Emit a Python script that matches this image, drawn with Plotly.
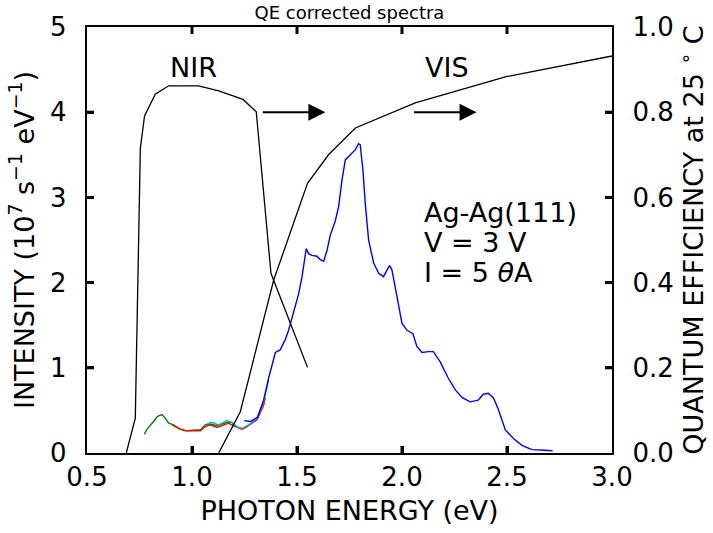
import plotly.graph_objects as go

FONT = "DejaVu Sans"

# ---- Quantum efficiency curves (right axis) ----
nir_qe_x = [0.687, 0.730, 0.754, 0.774, 0.825, 0.889, 1.031, 1.127, 1.243, 1.306, 1.376, 1.550]
nir_qe_y = [0.0, 0.082, 0.715, 0.791, 0.842, 0.862, 0.862, 0.850, 0.830, 0.801, 0.422, 0.201]
vis_qe_x = [1.127, 1.230, 1.389, 1.550, 1.650, 1.778, 2.063, 2.492, 3.0]
vis_qe_y = [0.0, 0.097, 0.406, 0.633, 0.700, 0.763, 0.822, 0.883, 0.932]

# ---- Spectra (left axis, 10^7 s^-1 eV^-1) ----
green_x = [0.773, 0.786, 0.817, 0.836, 0.857, 0.873, 0.889, 0.912, 0.936, 0.968, 1.016, 1.040,
           1.063, 1.087, 1.119, 1.143, 1.167, 1.190, 1.201]
green_y = [0.22, 0.28, 0.37, 0.43, 0.45, 0.41, 0.35, 0.33, 0.29, 0.26, 0.27, 0.27,
           0.33, 0.34, 0.32, 0.34, 0.36, 0.36, 0.32]
red_x = [0.905, 0.944, 0.976, 1.040, 1.063, 1.087, 1.119, 1.150, 1.174, 1.198, 1.238, 1.262,
         1.310, 1.341, 1.349]
red_y = [0.33, 0.28, 0.26, 0.26, 0.31, 0.33, 0.30, 0.33, 0.35, 0.32, 0.28, 0.31,
         0.39, 0.56, 0.65]
cyan_x = [1.071, 1.095, 1.127, 1.167, 1.190, 1.214, 1.238, 1.270, 1.310, 1.341, 1.365]
cyan_y = [0.34, 0.36, 0.33, 0.38, 0.36, 0.31, 0.29, 0.33, 0.41, 0.60, 0.86]
blue_x = [1.249, 1.278, 1.312, 1.341, 1.365, 1.397, 1.420, 1.444, 1.460, 1.492, 1.508, 1.524,
          1.535, 1.544, 1.555, 1.571, 1.595, 1.611, 1.627, 1.643, 1.659, 1.682, 1.698, 1.714,
          1.730, 1.754, 1.778, 1.793, 1.801, 1.814, 1.825, 1.841, 1.865, 1.889, 1.912, 1.929,
          1.941, 1.952, 1.976, 2.000, 2.024, 2.052, 2.071, 2.095, 2.127, 2.149, 2.182, 2.220,
          2.254, 2.287, 2.325, 2.363, 2.387, 2.411, 2.435, 2.459, 2.492, 2.531, 2.571, 2.619,
          2.659, 2.717]
blue_y = [0.38, 0.37, 0.42, 0.62, 0.88, 1.18, 1.21, 1.33, 1.44, 1.74, 1.87, 2.07,
          2.23, 2.40, 2.34, 2.32, 2.31, 2.27, 2.25, 2.38, 2.56, 2.72, 2.89, 3.20,
          3.44, 3.50, 3.56, 3.63, 3.62, 3.32, 2.93, 2.50, 2.23, 2.11, 2.07, 2.15,
          2.20, 2.15, 1.84, 1.52, 1.44, 1.40, 1.25, 1.18, 1.19, 1.19, 1.07, 0.88,
          0.74, 0.65, 0.60, 0.62, 0.69, 0.70, 0.65, 0.51, 0.27, 0.17, 0.09, 0.04,
          0.035, 0.027]

# ---- Arrows (NIR, VIS): start and tip energies, at intensity 4 ----
arrow_start = [1.33, 2.05]
arrow_tip = [1.635, 2.355]
arrow_level = 4.0

# ---- Text ----
labels = ["NIR", "VIS"]
labels_x = [1.007, 2.213]
labels_y = [4.52, 4.52]
info_lines = ["Ag-Ag(111)", "V = 3 V", "I = 5 <i>θ</i>A"]
info_x = 2.095
info_y = [2.82, 2.47, 2.12]

x_ticks = [0.5, 1.0, 1.5, 2.0, 2.5, 3.0]
y_ticks = [0, 1, 2, 3, 4, 5]
y2_ticks = [0.0, 0.2, 0.4, 0.6, 0.8, 1.0]

X_RANGE = [0.5, 3.0]
Y_RANGE = [0, 5]
TICK_LEN = 7            # px
TICK_W = 3
PLOT_W_PX = 525
PLOT_H_PX = 426
PAD = "\u00a0\u2009"

fig = go.Figure()

fig.add_trace(go.Scatter(x=nir_qe_x, y=nir_qe_y, mode="lines", yaxis="y2",
                         line=dict(color="black", width=1.3), showlegend=False))
fig.add_trace(go.Scatter(x=vis_qe_x, y=vis_qe_y, mode="lines", yaxis="y2",
                         line=dict(color="black", width=1.3), showlegend=False))

for xs, ys, col in [(green_x, green_y, "#008000"), (red_x, red_y, "#ff0000"),
                    (cyan_x, cyan_y, "#00bfbf"), (blue_x, blue_y, "#0000ff")]:
    fig.add_trace(go.Scatter(x=xs, y=ys, mode="lines",
                             line=dict(color=col, width=1.4), showlegend=False))

# inward tick marks on all four sides, built from the tick value lists
dx = TICK_LEN * (X_RANGE[1] - X_RANGE[0]) / PLOT_W_PX
dy = TICK_LEN * (Y_RANGE[1] - Y_RANGE[0]) / PLOT_H_PX
tx, ty = [], []
for tv in x_ticks[1:-1]:
    tx += [tv, tv, None, tv, tv, None]
    ty += [Y_RANGE[0], Y_RANGE[0] + dy, None, Y_RANGE[1], Y_RANGE[1] - dy, None]
for tv in y_ticks[1:-1]:
    tx += [X_RANGE[0], X_RANGE[0] + dx, None, X_RANGE[1], X_RANGE[1] - dx, None]
    ty += [tv, tv, None, tv, tv, None]
fig.add_trace(go.Scatter(x=tx, y=ty, mode="lines", line=dict(color="black", width=TICK_W),
                         hoverinfo="skip", showlegend=False))

for xs, xt in zip(arrow_start, arrow_tip):
    fig.add_annotation(x=xt, y=arrow_level, ax=xs, ay=arrow_level, axref="x", ayref="y",
                       xref="x", yref="y", text="", showarrow=True,
                       arrowhead=2, arrowsize=1.7, arrowwidth=2, arrowcolor="black",
                       standoff=0, startstandoff=0)

for t, lx, ly in zip(labels, labels_x, labels_y):
    fig.add_annotation(x=lx, y=ly, text=t, showarrow=False, xanchor="center", yanchor="middle",
                       font=dict(family=FONT, size=27, color="black"))
for t, ly in zip(info_lines, info_y):
    fig.add_annotation(x=info_x, y=ly, text=t, showarrow=False, xanchor="left", yanchor="middle",
                       font=dict(family=FONT, size=27, color="black"))

axis_common = dict(ticks="inside", ticklen=TICK_LEN, tickwidth=TICK_W, tickcolor="#000000",
                   showline=True, linecolor="black", linewidth=1.5, showgrid=False,
                   zeroline=False, tickfont=dict(family=FONT, size=26, color="black"))

fig.update_layout(
    width=713, height=533,
    margin=dict(l=87, r=101, t=27, b=80),
    plot_bgcolor="white", paper_bgcolor="white",
    title=dict(text="QE corrected spectra", x=0.5, xref="paper", xanchor="center",
               y=1 - 13 / 533, yref="container", yanchor="middle",
               font=dict(family=FONT, size=18, color="black")),
    xaxis=dict(range=X_RANGE, tickvals=x_ticks, ticktext=[f"{v:.1f}" for v in x_ticks],
               mirror=True,
               title=dict(text="PHOTON ENERGY (eV)", font=dict(family=FONT, size=27, color="black"),
                          standoff=10),
               **axis_common),
    yaxis=dict(range=Y_RANGE, tickvals=y_ticks, ticktext=[f"{v}{PAD}" for v in y_ticks],
               mirror=True,
               title=dict(text="INTENSITY (10<sup>7</sup> s<sup>−1</sup> eV<sup>−1</sup>)",
                          font=dict(family=FONT, size=27, color="black"), standoff=8),
               **axis_common),
    yaxis2=dict(range=[0, 1], tickvals=y2_ticks, ticktext=[f"{PAD}{v:.1f}" for v in y2_ticks],
                overlaying="y", side="right",
                title=dict(text="QUANTUM EFFICIENCY at 25 <sup>∘</sup> C",
                           font=dict(family=FONT, size=27, color="black"), standoff=8),
                **axis_common),
)

fig.write_html("out.html")
